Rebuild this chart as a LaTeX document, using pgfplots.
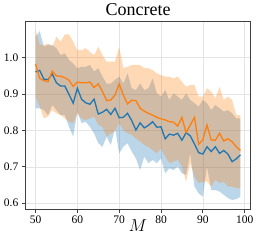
\documentclass[border=0pt]{standalone}
\usepackage{pgfplots}
\pgfplotsset{compat=1.18}
\usepackage{pgfplotstable}
\usepgfplotslibrary{fillbetween}
\usepackage{fontspec}
\setmainfont{Liberation Serif}
\definecolor{tabblue}{RGB}{31,119,180}
\definecolor{taborange}{RGB}{255,127,14}
\definecolor{framegray}{RGB}{64,64,64}
\definecolor{gridgray}{RGB}{228,228,228}

\pgfplotstableread{
M bm bl bu om ol ou
50 0.961 0.861 1.058 0.983 0.893 1.078
51 0.965 0.861 1.073 0.943 0.865 1.035
52 0.941 0.856 1.030 0.937 0.833 1.035
53 0.940 0.842 1.035 0.934 0.838 1.039
54 0.955 0.870 1.035 0.963 0.856 1.030
55 0.931 0.856 1.026 0.950 0.847 1.058
56 0.922 0.842 1.007 0.949 0.842 1.044
57 0.922 0.842 1.012 0.945 0.833 1.064
58 0.899 0.810 0.994 0.938 0.824 1.064
59 0.875 0.783 0.984 0.921 0.820 1.044
60 0.916 0.852 0.971 0.933 0.847 1.021
61 0.886 0.820 0.975 0.931 0.833 1.021
62 0.876 0.824 0.975 0.931 0.829 1.026
63 0.872 0.810 0.980 0.933 0.833 1.016
64 0.886 0.792 0.962 0.918 0.838 1.007
65 0.845 0.765 0.971 0.928 0.815 1.030
66 0.850 0.755 0.948 0.907 0.810 1.007
67 0.858 0.783 0.929 0.882 0.783 0.989
68 0.844 0.760 0.929 0.884 0.792 0.989
69 0.861 0.806 0.939 0.897 0.797 0.989
70 0.835 0.737 0.948 0.928 0.820 1.030
71 0.836 0.755 0.929 0.897 0.801 0.971
72 0.847 0.765 0.957 0.873 0.792 0.975
73 0.827 0.742 0.916 0.883 0.788 0.980
74 0.801 0.723 0.911 0.882 0.778 0.980
75 0.821 0.691 0.929 0.861 0.769 0.980
76 0.807 0.728 0.911 0.853 0.760 0.971
77 0.814 0.710 0.916 0.847 0.755 0.971
78 0.824 0.719 0.943 0.842 0.746 0.966
79 0.809 0.710 0.902 0.836 0.737 0.957
80 0.810 0.723 0.893 0.832 0.751 0.952
81 0.777 0.682 0.911 0.829 0.728 0.948
82 0.790 0.696 0.884 0.824 0.710 0.948
83 0.787 0.691 0.902 0.823 0.714 0.943
84 0.792 0.701 0.893 0.812 0.719 0.948
85 0.773 0.682 0.884 0.836 0.701 0.934
86 0.794 0.678 0.902 0.794 0.659 0.920
87 0.785 0.737 0.884 0.815 0.710 0.925
88 0.763 0.646 0.875 0.836 0.673 0.925
89 0.739 0.627 0.865 0.762 0.655 0.893
90 0.735 0.618 0.884 0.774 0.659 0.893
91 0.755 0.701 0.875 0.815 0.659 0.916
92 0.742 0.636 0.856 0.774 0.646 0.907
93 0.755 0.636 0.870 0.773 0.664 0.888
94 0.737 0.632 0.861 0.792 0.655 0.920
95 0.745 0.623 0.852 0.771 0.659 0.884
96 0.735 0.614 0.856 0.777 0.646 0.893
97 0.714 0.609 0.847 0.769 0.645 0.884
98 0.722 0.611 0.833 0.755 0.642 0.842
99 0.733 0.618 0.833 0.745 0.640 0.842
}\data

\begin{document}
\begin{tikzpicture}
\begin{axis}[
  scale only axis,
  width=225.4pt, height=187.3pt,
  xmin=47.55, xmax=101.45,
  ymin=0.584, ymax=1.099,
  xtick={50,60,70,80,90,100},
  ytick={0.6,0.7,0.8,0.9,1.0},
  yticklabel style={/pgf/number format/fixed,/pgf/number format/fixed zerofill,/pgf/number format/precision=1},
  /pgf/number format/assume math mode=true,
  ticklabel style={font=\fontsize{11.5}{12}\selectfont},
  tick align=outside,
  major tick length=3.5pt,
  tick style={framegray, line width=0.8pt},
  xtick pos=bottom, ytick pos=left,
  axis line style={framegray, line width=1pt},
  grid=major,
  major grid style={gridgray, line width=0.6pt},
  title={Concrete},
  title style={font=\fontsize{18}{20}\selectfont, yshift=-4pt},
  xlabel={$M$},
  xlabel style={font=\fontsize{16}{18}\selectfont, yshift=11pt},
  clip=true,
]
\addplot[name path=bu, draw=none, forget plot] table[x=M,y=bu]{\data};
\addplot[name path=bl, draw=none, forget plot] table[x=M,y=bl]{\data};
\addplot[fill=tabblue, fill opacity=0.3, draw=none, forget plot] fill between[of=bu and bl];
\addplot[name path=ou, draw=none, forget plot] table[x=M,y=ou]{\data};
\addplot[name path=ol, draw=none, forget plot] table[x=M,y=ol]{\data};
\addplot[fill=taborange, fill opacity=0.3, draw=none, forget plot] fill between[of=ou and ol];
\addplot[tabblue, line width=1.3pt, mark=none] table[x=M,y=bm]{\data};
\addplot[taborange, line width=1.3pt, mark=none] table[x=M,y=om]{\data};
\end{axis}
\path (current axis.south west) ++(-25.3pt,-37pt) coordinate (bbA);
\path (current axis.north east) ++(8.3pt,21.7pt) coordinate (bbB);
\path (bbA) rectangle (bbB);
\end{tikzpicture}
\end{document}
